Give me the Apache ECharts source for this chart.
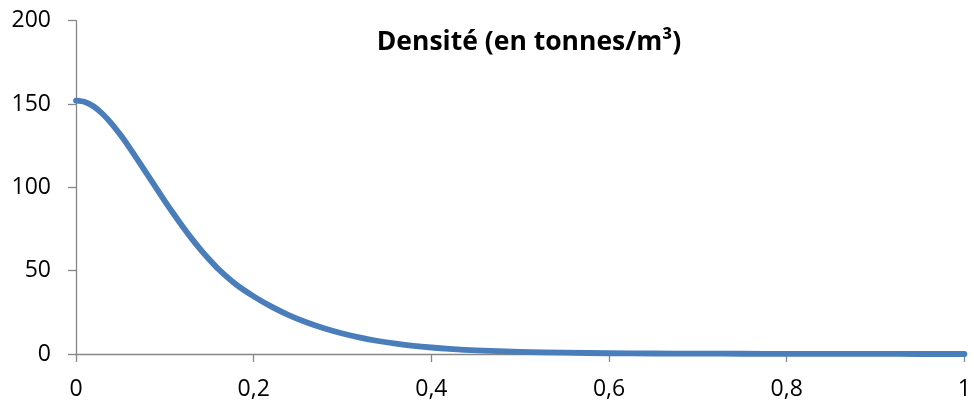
<!DOCTYPE html>
<html>
<head>
<meta charset="utf-8">
<script src="https://cdn.jsdelivr.net/npm/echarts@6/dist/echarts.min.js"></script>
<style>
  html, body { margin: 0; padding: 0; background: #ffffff; }
  #chart { width: 974px; height: 402px; }
</style>
</head>
<body>
<div id="chart"></div>
<script>
// Relative radius (0 = centre, 1 = surface)
const radius = [
  0, 0.01, 0.02, 0.03, 0.04, 0.05, 0.06, 0.07, 0.08, 0.09,
  0.10, 0.11, 0.12, 0.13, 0.14, 0.15, 0.16, 0.18, 0.20, 0.22,
  0.24, 0.26, 0.28, 0.30, 0.32, 0.34, 0.36, 0.38, 0.40, 0.42,
  0.45, 0.50, 0.55, 0.60, 0.65, 0.70, 0.75, 0.80, 0.85, 0.90,
  0.95, 1.00
];
// Density in tonnes per cubic metre
const density = [
  152, 151.2, 148.5, 144, 138.3, 131.5, 124, 116, 107.9, 99.8,
  91.8, 84.0, 76.5, 69.4, 62.8, 56.7, 51.1, 41.8, 34.6, 28.4,
  23.2, 18.9, 15.3, 12.3, 9.8, 7.8, 6.2, 4.9, 3.9, 3.1,
  2.2, 1.3, 0.8, 0.45, 0.3, 0.2, 0.15, 0.1, 0.07, 0.03,
  0.01, 0
];
const titleText = 'Densité (en tonnes/m³)';

const points = radius.map((r, i) => [r, density[i]]);
const axisGray = '#868686';
const labelFont = { fontFamily: 'Open Sans', fontSize: 23, color: '#000000' };

const chart = echarts.init(document.getElementById('chart'), null, { renderer: 'canvas' });
chart.setOption({
  animation: false,
  backgroundColor: '#ffffff',
  title: {
    text: titleText,
    left: 524,
    top: 24,
    textAlign: 'center',
    textStyle: { fontFamily: 'Open Sans', fontWeight: 'bold', fontSize: 26.5, color: '#000000' }
  },
  grid: { left: 76, right: 6.5, top: 20.7, bottom: 48, containLabel: false },
  xAxis: {
    type: 'value',
    min: 0, max: 1, interval: 0.2,
    axisLine: { show: true, lineStyle: { color: axisGray, width: 1.3 } },
    axisTick: { show: true, length: 8, lineStyle: { color: axisGray, width: 1.3 } },
    splitLine: { show: false },
    axisLabel: Object.assign({
      margin: 24,
      formatter: v => (Math.round(v * 10) / 10).toString().replace('.', ',')
    }, labelFont)
  },
  yAxis: {
    type: 'value',
    min: 0, max: 200, interval: 50,
    axisLine: { show: true, lineStyle: { color: axisGray, width: 1.3 } },
    axisTick: { show: true, length: 8, lineStyle: { color: axisGray, width: 1.3 } },
    splitLine: { show: false },
    axisLabel: Object.assign({ margin: 25 }, labelFont)
  },
  series: [{
    type: 'line',
    data: points,
    smooth: 0.3,
    showSymbol: false,
    symbol: 'none',
    lineStyle: { color: '#4a7ebb', width: 5.8, cap: 'round', join: 'round' }
  }]
});
</script>
</body>
</html>
